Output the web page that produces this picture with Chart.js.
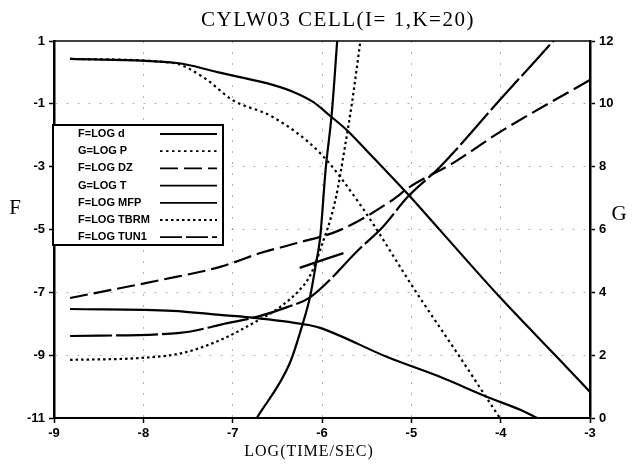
<!DOCTYPE html>
<html><head><meta charset="utf-8">
<script src="https://cdn.jsdelivr.net/npm/chart.js@4"></script>
<style>html,body{margin:0;padding:0;background:#fff}#wrap{width:633px;height:465px}</style>
</head><body><div id="wrap"><canvas id="c" width="633" height="465"></canvas></div>
<script>
const titleText = 'CYLW03 CELL(I= 1,K=20)';
const xTitle = 'LOG(TIME/SEC)';
const fTitle = 'F';
const gTitle = 'G';
const xTicks = [-9, -8, -7, -6, -5, -4, -3];
const fTicks = [-11, -9, -7, -5, -3, -1, 1];
const gTicks = [0, 2, 4, 6, 8, 10, 12];

// F=LOG d (solid, F axis)
const dX = [-8.82, -7.62, -7.17, -6.92, -6.62, -6.32, -6.10, -5.91, -5.72, -5.57, -5.05, -4.68, -4.01, -3.37, -3.00];
const dF = [0.43, 0.30, 0.01, -0.15, -0.34, -0.62, -0.94, -1.38, -1.84, -2.28, -3.84, -5.02, -7.15, -9.06, -10.17];
// G=LOG P (dotted, G axis)
const pX = [-8.82, -7.67, -7.33, -7.00, -6.55, -6.02, -5.57, -4.94, -4.45, -4.01];
const pG = [11.43, 11.30, 10.85, 10.12, 9.58, 8.43, 6.78, 3.98, 1.91, 0.0];
// F=LOG DZ (dashed, F axis)
const dzX = [-8.82, -7.81, -7.14, -6.69, -6.28, -5.80, -5.21, -5.02, -4.53, -4.01, -3.00];
const dzF = [-7.18, -6.61, -6.19, -5.75, -5.43, -5.02, -4.06, -3.65, -2.88, -1.90, -0.24];
// G=LOG T (solid, G axis)
const tX = [-6.73, -6.36, -6.22, -6.13, -6.07, -6.02, -5.96, -5.89, -5.83];
const tG = [0.0, 1.75, 2.96, 3.91, 4.87, 5.76, 7.89, 9.71, 12.0];
// F=LOG MFP (solid, F axis)
const mfpX = [-8.82, -7.67, -7.14, -6.73, -6.15, -6.02, -5.27, -4.68, -4.15, -3.78, -3.59];
const mfpF = [-7.53, -7.59, -7.72, -7.82, -8.04, -8.13, -9.06, -9.69, -10.33, -10.74, -11.0];
// F=LOG TBRM (dotted, F axis)
const tbX = [-8.82, -8.04, -7.56, -7.14, -6.77, -6.47, -6.25, -6.13, -6.02, -5.85, -5.74, -5.66, -5.57];
const tbF = [-9.15, -9.09, -8.93, -8.52, -7.98, -7.47, -6.92, -6.45, -5.65, -4.06, -2.31, -0.88, 1.0];
// F=LOG TUN1 (long dash, F axis)
const tuX = [-8.82, -7.59, -7.06, -6.73, -6.39, -6.13, -5.57, -5.32, -5.04, -4.68, -4.01, -3.41];
const tuF = [-8.39, -8.29, -7.98, -7.78, -7.47, -7.15, -5.59, -4.92, -3.96, -3.01, -0.88, 1.0];
// short extra dashed segment
const segX = [-6.25, -5.76];
const segF = [-6.22, -5.75];

const pts = (xs, ys) => xs.map((x, i) => ({x, y: ys[i]}));
const base = {borderColor: '#000', backgroundColor: '#000', borderWidth: 2.2, pointRadius: 0, fill: false,
  cubicInterpolationMode: 'monotone', borderCapStyle: 'butt'};

const datasets = [
  Object.assign({}, base, {label: 'F=LOG d', data: pts(dX, dF), yAxisID: 'y'}),
  Object.assign({}, base, {label: 'G=LOG P', data: pts(pX, pG), yAxisID: 'y2', borderDash: [2.5, 3.5]}),
  Object.assign({}, base, {label: 'F=LOG DZ', data: pts(dzX, dzF), yAxisID: 'y', borderDash: [18, 6]}),
  Object.assign({}, base, {label: 'G=LOG T', data: pts(tX, tG), yAxisID: 'y2'}),
  Object.assign({}, base, {label: 'F=LOG MFP', data: pts(mfpX, mfpF), yAxisID: 'y'}),
  Object.assign({}, base, {label: 'F=LOG TBRM', data: pts(tbX, tbF), yAxisID: 'y', borderDash: [2.5, 3]}),
  Object.assign({}, base, {label: 'F=LOG TUN1', data: pts(tuX, tuF), yAxisID: 'y', borderDash: [42, 4]}),
  Object.assign({}, base, {label: '', data: pts(segX, segF), yAxisID: 'y', borderWidth: 2.4})
];

const tickFont = {family: 'Liberation Sans', size: 13, weight: 'bold'};
const gridColor = (ctx) => {
  const s = ctx.scale;
  if (ctx.tick && (ctx.tick.value === s.min || ctx.tick.value === s.max)) return 'rgba(0,0,0,0)';
  return 'rgba(0,0,0,0.3)';
};

const decor = {
  id: 'decor',
  afterDraw(chart) {
    const {ctx, chartArea: a} = chart;
    ctx.save();
    ctx.strokeStyle = '#000';
    ctx.lineWidth = 1.5;
    ctx.beginPath(); ctx.moveTo(a.left, a.top); ctx.lineTo(a.right, a.top); ctx.stroke();

    ctx.fillStyle = '#000';
    ctx.textAlign = 'center';
    ctx.textBaseline = 'middle';
    try { ctx.letterSpacing = '1.5px'; } catch (e) {}
    ctx.font = '21px "Liberation Serif"';
    ctx.fillText(titleText, 338, 20);
    try { ctx.letterSpacing = '1px'; } catch (e) {}
    ctx.font = '16px "Liberation Serif"';
    ctx.fillText(xTitle, 309, 452);
    try { ctx.letterSpacing = '0px'; } catch (e) {}
    ctx.font = '21px "Liberation Serif"';
    ctx.fillText(fTitle, 15, 208);
    ctx.fillText(gTitle, 619, 214);

    // legend box
    const L = {x: 53, y: 125, w: 170, h: 120};
    ctx.fillStyle = '#fff';
    ctx.fillRect(L.x, L.y, L.w, L.h);
    ctx.lineWidth = 2;
    ctx.strokeStyle = '#000';
    ctx.strokeRect(L.x, L.y, L.w, L.h);
    ctx.textAlign = 'left';
    ctx.font = 'bold 11px "Liberation Sans"';
    ctx.fillStyle = '#000';
    chart.data.datasets.filter(d => d.label).forEach((d, i) => {
      const y = L.y + 9 + i * 17.2;
      ctx.fillText(d.label, 78, y);
      ctx.save();
      ctx.lineWidth = 1.8;
      ctx.setLineDash(d.borderDash ? d.borderDash.map(v => Math.min(v, 22)) : []);
      ctx.beginPath(); ctx.moveTo(160, y); ctx.lineTo(217, y); ctx.stroke();
      ctx.restore();
    });
    ctx.restore();
  }
};

new Chart(document.getElementById('c'), {
  type: 'line',
  data: {datasets},
  options: {
    responsive: false,
    animation: false,
    devicePixelRatio: 1,
    layout: {padding: {top: 41, left: 0, right: 0, bottom: 0}},
    plugins: {legend: {display: false}, title: {display: false}, tooltip: {enabled: false}},
    scales: {
      x: {
        type: 'linear', min: -9, max: -3,
        afterBuildTicks: s => { s.ticks = xTicks.map(v => ({value: v})); },
        afterFit: s => { s.height = 47; },
        ticks: {font: tickFont, color: '#000', padding: 3, maxRotation: 0, callback: v => String(v)},
        grid: {color: gridColor, lineWidth: 1, tickColor: '#000', tickLength: 5, tickWidth: 1.5},
        border: {color: '#000', width: 2, dash: [2, 9]}
      },
      y: {
        type: 'linear', position: 'left', min: -11, max: 1,
        afterBuildTicks: s => { s.ticks = fTicks.map(v => ({value: v})); },
        afterFit: s => { s.width = 54; },
        ticks: {font: tickFont, color: '#000', padding: 4, callback: v => String(v)},
        grid: {color: gridColor, lineWidth: 1, tickColor: '#000', tickLength: 5, tickWidth: 1.5},
        border: {color: '#000', width: 2.5, dash: [2, 9]}
      },
      y2: {
        type: 'linear', position: 'right', min: 0, max: 12,
        afterBuildTicks: s => { s.ticks = gTicks.map(v => ({value: v})); },
        afterFit: s => { s.width = 43; },
        ticks: {font: tickFont, color: '#000', padding: 4, callback: v => String(v)},
        grid: {drawOnChartArea: false, tickColor: '#000', tickLength: 5, tickWidth: 1.5},
        border: {color: '#000', width: 2.5}
      }
    }
  },
  plugins: [decor]
});
</script>
</body></html>
